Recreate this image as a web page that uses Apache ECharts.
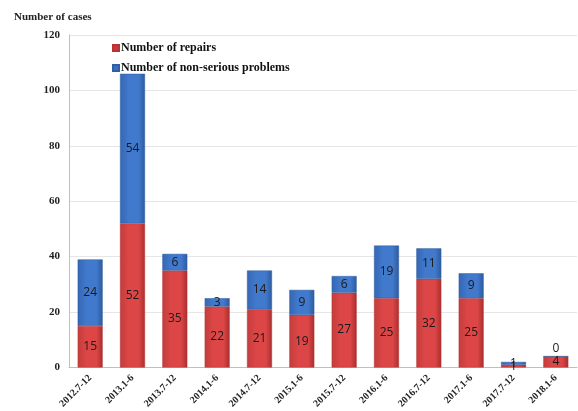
<!DOCTYPE html>
<html>
<head>
<meta charset="utf-8">
<script src="https://cdn.jsdelivr.net/npm/echarts@6/dist/echarts.min.js"></script>
<style>
  html, body { margin: 0; padding: 0; background: #ffffff; }
  #chart { width: 578px; height: 411px; }
</style>
</head>
<body>
<div id="chart"></div>
<script>
// Half-year periods
const periods = ['2012.7-12', '2013.1-6', '2013.7-12', '2014.1-6', '2014.7-12', '2015.1-6',
                 '2015.7-12', '2016.1-6', '2016.7-12', '2017.1-6', '2017.7-12', '2018.1-6'];
// Cases per period
const repairs = [15, 52, 35, 22, 21, 19, 27, 25, 32, 25, 1, 4];
const nonSerious = [24, 54, 6, 3, 14, 9, 6, 19, 11, 9, 1, 0];

const serif = '"Liberation Serif", "DejaVu Serif", serif';
const sans = '"Open Sans", "Noto Sans", sans-serif';

function shade(edge, mid, dark) {
  return new echarts.graphic.LinearGradient(0, 0, 1, 0, [
    { offset: 0, color: edge },
    { offset: 0.35, color: mid },
    { offset: 0.75, color: mid },
    { offset: 1, color: dark }
  ]);
}

const labelStyle = {
  show: true,
  position: 'inside',
  color: '#1a1a1a',
  fontFamily: sans,
  fontSize: 12
};

const chart = echarts.init(document.getElementById('chart'));
chart.setOption({
  animation: false,
  backgroundColor: '#ffffff',
  title: {
    text: 'Number of cases',
    left: 9,
    top: 7,
    textStyle: { fontFamily: serif, fontWeight: 'bold', fontSize: 11, color: '#222' }
  },
  legend: {
    orient: 'vertical',
    left: 107,
    top: 37,
    itemWidth: 6,
    itemHeight: 6,
    itemGap: 8,
    icon: 'rect',
    textStyle: { fontFamily: serif, fontWeight: 'bold', fontSize: 12, color: '#111', padding: [0, 0, 0, -3] },
    data: [
      { name: 'Number of repairs', itemStyle: { color: '#c83a3a' } },
      { name: 'Number of non-serious problems', itemStyle: { color: '#3a70c2' } }
    ]
  },
  grid: { left: 69, right: 1, top: 35, bottom: 43 },
  xAxis: {
    type: 'category',
    data: periods,
    axisLine: { lineStyle: { color: '#bfbfbf' } },
    axisTick: { show: false },
    axisLabel: {
      rotate: 45,
      interval: 0,
      margin: 9,
      fontFamily: serif,
      fontWeight: 'bold',
      fontSize: 10,
      color: '#222'
    }
  },
  yAxis: {
    type: 'value',
    min: 0,
    max: 120,
    interval: 20,
    axisLine: { show: true, lineStyle: { color: '#bfbfbf' } },
    axisTick: { show: false },
    splitLine: { lineStyle: { color: '#e6e6e6' } },
    axisLabel: {
      margin: 9,
      fontFamily: serif,
      fontWeight: 'bold',
      fontSize: 11,
      color: '#222'
    }
  },
  series: [
    {
      name: 'Number of repairs',
      type: 'bar',
      stack: 'cases',
      barCategoryGap: '41%',
      data: repairs,
      itemStyle: {
        color: shade('#c43c3c', '#dc4646', '#a92e2e'),
        borderColor: '#b53434',
        borderWidth: 0.5
      },
      label: labelStyle
    },
    {
      name: 'Number of non-serious problems',
      type: 'bar',
      stack: 'cases',
      barCategoryGap: '41%',
      data: nonSerious.map((v, i) =>
        v === 0 ? { value: v, label: { position: 'top', distance: 2 } } : v),
      itemStyle: {
        color: shade('#3566b4', '#4179cc', '#2c5a9f'),
        borderColor: '#30609f',
        borderWidth: 0.5
      },
      label: labelStyle
    }
  ]
});
</script>
</body>
</html>
